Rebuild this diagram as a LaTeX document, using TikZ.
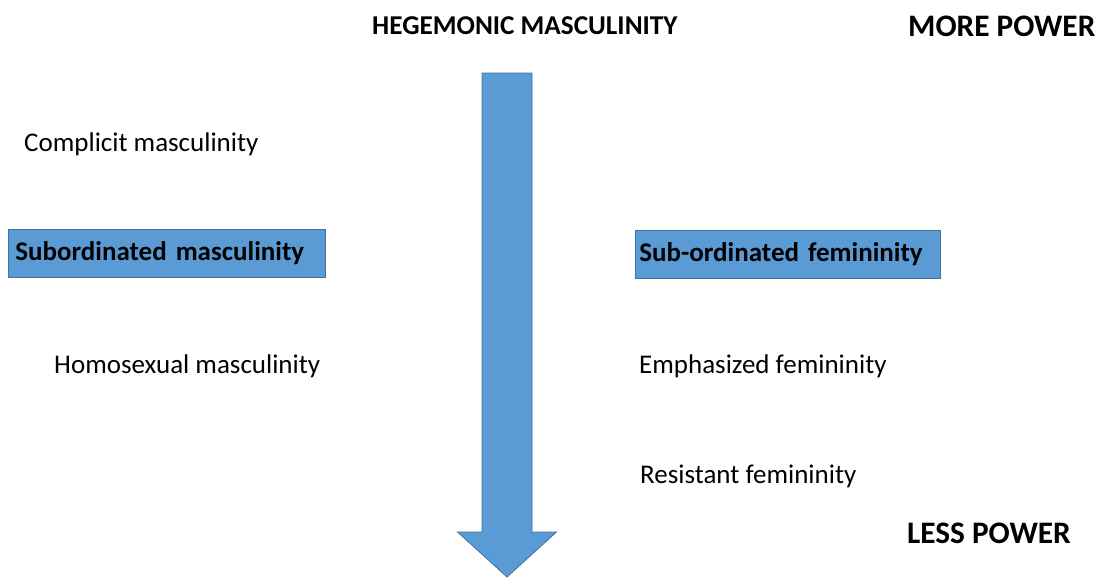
\documentclass[tikz,border=0pt]{standalone}
\usepackage{fontspec}
\setmainfont{Carlito}
\usetikzlibrary{positioning}

\definecolor{arrowblue}{HTML}{5B9BD5}
\definecolor{edgeblue}{HTML}{41719C}

\begin{document}
\begin{tikzpicture}[%
        x = 1pt, y = -1pt,
        label/.style = {%
            anchor = base west,
            inner sep = 0pt,
            font = \fontsize{27}{31}\selectfont
        },
        heading/.style = {%
            label,
            font = \fontsize{27.2}{31}\selectfont\bfseries
        },
        power/.style = {%
            label,
            font = \fontsize{31.3}{36}\selectfont\bfseries
        },
        catbox/.style = {%
            draw = edgeblue,
            fill = arrowblue,
            line width = 0.8pt,
            anchor = north west,
            minimum height = 48pt,
            align = left,
            inner ysep = 0pt,
            font = \fontsize{27}{31}\selectfont\bfseries
        }
    ]

        % Page size.
        \useasboundingbox (0, 0) rectangle (1103, 579);

        % The big arrow down the middle.
        \draw[draw = edgeblue, fill = arrowblue, line width = 0.8pt]
            (482, 73) -- (532, 73) -- (532, 532) -- (556.5, 532)
            -- (507, 577) -- (457.5, 532) -- (482, 532) -- cycle;

        % Top and bottom labels.
        \node[heading] (hegemonic) at (372, 34) {HEGEMONIC MASCULINITY};
        \node[power] (more) at (908, 36) {MORE POWER};
        \node[power] (less) at (907, 543) {LESS POWER};

        % Masculinities on the left.
        \node[label] (complicit) at (24, 151) {Complicit masculinity};
        \node[catbox, minimum width = 317pt, text width = 303pt,
            inner xsep = 7pt] (subm) at (8, 229) {\raisebox{-2pt}{Subordinated masculinity}};
        \node[label] (homosexual) at (54, 373) {Homosexual masculinity};

        % Femininities on the right.
        \node[catbox, minimum width = 305pt, text width = 297pt,
            inner xsep = 4pt] (subf) at (635, 230) {\raisebox{-2pt}{Sub-ordinated femininity}};
        \node[label] (emphasized) at (639, 373) {Emphasized femininity};
        \node[label] (resistant) at (640, 483) {Resistant femininity};
    \end{tikzpicture}
\end{document}
